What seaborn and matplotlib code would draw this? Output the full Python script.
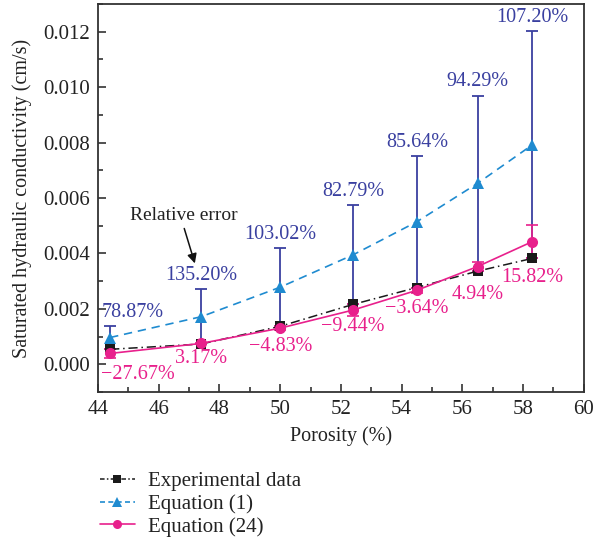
import numpy as np
import pandas as pd
import matplotlib
matplotlib.use("Agg")
import matplotlib.pyplot as plt
from matplotlib.lines import Line2D
from matplotlib.ticker import MultipleLocator
import seaborn as sns

# Porosity (%) of the tested samples
porosity = [44.4, 47.4, 50.0, 52.4, 54.5, 56.5, 58.3]
# Measured saturated hydraulic conductivity (cm/s)
k_experimental = [0.00054, 0.00073, 0.00137, 0.00216, 0.00277, 0.00336, 0.00382]
# Relative errors (%) of the two predictive equations against the measurements
err_eq1 = [78.87, 135.20, 103.02, 82.79, 85.64, 94.29, 107.20]
err_eq24 = [-27.67, 3.17, -4.83, -9.44, -3.64, 4.94, 15.82]

x_ticks = [44, 46, 48, 50, 52, 54, 56, 58, 60]
y_ticks = [0.000, 0.002, 0.004, 0.006, 0.008, 0.010, 0.012]

k_exp = np.array(k_experimental)
k_eq1 = k_exp * (1 + np.array(err_eq1) / 100)
k_eq24 = k_exp * (1 + np.array(err_eq24) / 100)

df = pd.DataFrame({"porosity": porosity, "exp": k_exp, "eq1": k_eq1, "eq24": k_eq24})

sns.set_theme(style="ticks")
plt.rcParams["font.family"] = ["Liberation Serif", "DejaVu Serif"]
plt.rcParams["mathtext.fontset"] = "stix"

C_EXP = "#1a1a1a"
C_EQ1 = "#1f8bd0"
C_BAR = "#3a40a0"
C_EQ24 = "#e8208c"

fig = plt.figure(figsize=(6.05, 5.48), dpi=100)
ax = fig.add_axes([0.162, 0.2847, 0.803, 0.708])

# error bars spanning from each prediction to the measured value
ax.errorbar(df["porosity"], df["eq1"], yerr=np.abs(df["eq1"] - df["exp"]),
            fmt="none", ecolor=C_BAR, elinewidth=1.3, capsize=4.5, capthick=1.3, zorder=2)
ax.errorbar(df["porosity"], df["eq24"], yerr=np.abs(df["eq24"] - df["exp"]),
            fmt="none", ecolor=C_EQ24, elinewidth=1.2, capsize=4.5, capthick=1.2, zorder=2)

sns.lineplot(data=df, x="porosity", y="exp", ax=ax, color=C_EXP, linestyle=(0, (6, 2.5, 1, 2.5)),
             linewidth=1.1, marker="s", markersize=7, markeredgewidth=0, zorder=4)
sns.lineplot(data=df, x="porosity", y="eq1", ax=ax, color=C_EQ1, linestyle=(0, (5, 3.5)),
             linewidth=1.2, marker="^", markersize=9, markeredgewidth=0, zorder=3)
sns.lineplot(data=df, x="porosity", y="eq24", ax=ax, color=C_EQ24, linestyle="-",
             linewidth=1.2, marker="o", markersize=8, markeredgewidth=0, zorder=5)

ax.set_xlim(44, 60)
ax.set_ylim(-0.001, 0.013)
ax.set_xticks(x_ticks)
ax.set_yticks(y_ticks)
ax.set_xticklabels([str(t) for t in x_ticks])
ax.set_yticklabels([f"{t:.3f}" for t in y_ticks])
ax.xaxis.set_minor_locator(MultipleLocator(1))
ax.yaxis.set_minor_locator(MultipleLocator(0.001))
ax.tick_params(which="both", direction="in", top=False, right=False, colors="#222222",
               labelsize=15, width=1.1, labelcolor="#222222")
ax.tick_params(which="major", length=6, pad=6)
ax.tick_params(which="minor", length=3.5)
for sp in ax.spines.values():
    sp.set_visible(True)
    sp.set_color("#333333")
    sp.set_linewidth(1.3)

ax.set_xlabel("Porosity (%)", fontsize=14.5, color="#222222", labelpad=5)
ax.set_ylabel("Saturated hydraulic conductivity (cm/s)", fontsize=14.5, color="#222222", labelpad=8)

# relative-error labels for Equation (1), above the upper caps
eq1_offsets = [(16, 3), (0, 3), (0, 3), (0, 3), (0, 3), (0, 3), (0, 3)]
for (xi, yi, lo, e), (dx, dy) in zip(zip(df["porosity"], df["eq1"], df["exp"], err_eq1), eq1_offsets):
    top = yi + abs(yi - lo)
    ax.annotate(f"{e:.2f}%", (xi, top), xytext=(dx, dy), textcoords="offset points",
                ha="center", va="bottom", fontsize=14.5, color=C_BAR)

# relative-error labels for Equation (24), below the points
eq24_offsets = [(20, -15), (0, -11), (0, -13), (0, -12), (0, -13), (0, -20), (0, -26)]
for (xi, yi, e), (dx, dy) in zip(zip(df["porosity"], df["eq24"], err_eq24), eq24_offsets):
    ax.annotate(f"{e:.2f}%".replace("-", "\u2212"), (xi, yi), xytext=(dx, dy),
                textcoords="offset points", ha="center", va="center",
                fontsize=14.5, color=C_EQ24)

ax.text(46.81, 0.00538, "Relative error", ha="center", va="center",
        fontsize=14, color="#222222")
ax.annotate("", xy=(47.19, 0.00364), xytext=(46.84, 0.0049),
            arrowprops=dict(arrowstyle="-|>", color="#111111", lw=1.1,
                            mutation_scale=14, shrinkA=0, shrinkB=0))

handles = [
    Line2D([], [], color=C_EXP, linestyle=(0, (3, 1.5, 1, 1.5)), linewidth=1.1, marker="s",
           markersize=6, markeredgewidth=0),
    Line2D([], [], color=C_EQ1, linestyle=(0, (3, 2)), linewidth=1.2, marker="^",
           markersize=7, markeredgewidth=0),
    Line2D([], [], color=C_EQ24, linestyle="-", linewidth=1.2, marker="o",
           markersize=6.5, markeredgewidth=0),
]
fig.legend(handles, ["Experimental data", "Equation (1)", "Equation (24)"],
           loc="upper left", bbox_to_anchor=(0.151, 0.155), frameon=False,
           fontsize=15, handlelength=1.7, handletextpad=0.6, labelspacing=0.15,
           borderaxespad=0, labelcolor="#222222")

fig.savefig("out.png", dpi=100)
